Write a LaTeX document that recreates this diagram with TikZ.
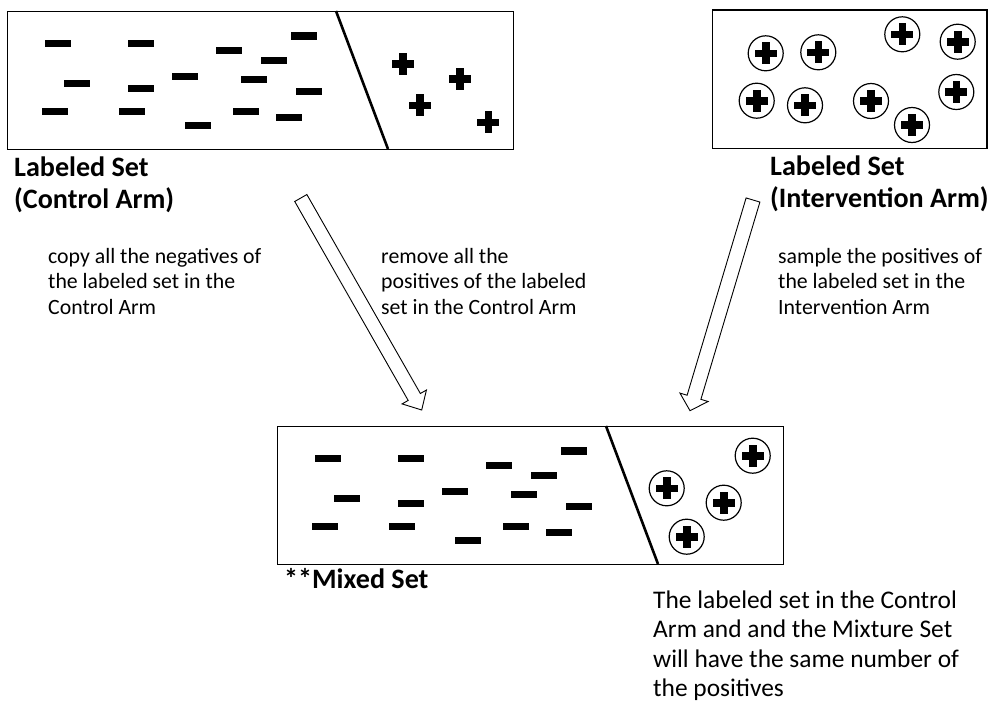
\documentclass[tikz,border=0pt]{standalone}
\usepackage{fontspec}
\setmainfont{Carlito}
\usetikzlibrary{calc}
\tikzset{
  setbox/.style={draw, line width=1.3pt, inner sep=0pt, anchor=north west},
  divider/.style={line width=2.6pt},
  negsign/.style={fill=black, inner sep=0pt, minimum width=26pt, minimum height=7.4pt},
  posring/.style={circle, draw, line width=1.2pt, inner sep=0pt, minimum size=35pt},
  plussign/.pic={\fill (-11,-3.8) rectangle (11,3.8); \fill (-3.8,-11) rectangle (3.8,11);},
  arrowline/.style={draw, line width=0.9pt, line join=miter, fill=white},
  titletext/.style={anchor=base west, align=left, inner sep=0pt, font=\fontsize{28.1}{32.3}\selectfont\bfseries},
  bodytext/.style={anchor=base west, align=left, inner sep=0pt, font=\fontsize{21.8}{25.3}\selectfont},
  notetext/.style={anchor=base west, align=left, inner sep=0pt, font=\fontsize{25.4}{29.5}\selectfont},
}
\begin{document}
\begin{tikzpicture}[x=1pt, y=-1pt]
\useasboundingbox (0,0) rectangle (989,707);

% ---------- Control arm box ----------
\node[setbox, minimum width=506pt, minimum height=138pt] (ctrl) at (7,11) {};
\draw[divider] (336,11) -- (388,149);
\foreach \x/\y [count=\i] in {58/43.7, 140.5/43.7, 228.7/50.3, 303.7/36, 273.5/60.3,
    77/83.7, 140.5/88.3, 185/76.3, 253.8/79.7, 308.5/91.7,
    54.8/111.3, 132/111.3, 198/125.7, 245.5/111.3, 288.5/117.3}
  \node[negsign] (cn\i) at (\x,\y) {};
\foreach \x/\y [count=\i] in {402.8/63.7, 459.8/79, 419.7/105.3, 488.3/122.3}
  \pic (cp\i) at (\x,\y) {plussign};

% ---------- Intervention arm box ----------
\node[setbox, minimum width=274.5pt, minimum height=138.7pt] (intv) at (711.7,9.3) {};
\foreach \x/\y [count=\i] in {765.7/53.3, 818.3/52.3, 902.3/34.3, 957.7/41.7,
    756.7/100.7, 805/105.3, 871/101, 912/125, 956.3/92}
  {\node[posring] (ip\i) at (\x,\y) {};
   \pic at (ip\i.center) {plussign};}

% ---------- Mixed set box ----------
\node[setbox, minimum width=506pt, minimum height=138pt] (mixed) at (277,426) {};
\draw[divider] (606,426) -- (658,564);
\foreach \x/\y [count=\i] in {58/43.7, 140.5/43.7, 228.7/50.3, 303.7/36, 273.5/60.3,
    77/83.7, 140.5/88.3, 185/76.3, 253.8/79.7, 308.5/91.7,
    54.8/111.3, 132/111.3, 198/125.7, 245.5/111.3, 288.5/117.3}
  \node[negsign] (mn\i) at (\x+270,\y+415) {};
\foreach \x/\y [count=\i] in {666.7/488.3, 752.7/455.7, 723.7/502.7, 686.7/536.7}
  {\node[posring] (mp\i) at (\x,\y) {};
   \pic at (mp\i.center) {plussign};}

% ---------- Block arrows ----------
\coordinate (la) at (300.8,198);
\coordinate (lb) at (421.7,410);
\coordinate (lh) at ($(lb)!15pt!(la)$);
\draw[arrowline] ($(la)!7pt!90:(lb)$) -- ($(lh)!7pt!90:(lb)$) -- ($(lh)!14pt!90:(lb)$)
  -- (lb) -- ($(lh)!14pt!-90:(lb)$) -- ($(lh)!7pt!-90:(lb)$) -- ($(la)!7pt!-90:(lb)$) -- cycle;

\coordinate (ra) at (753,200);
\coordinate (rb) at (690,410.7);
\coordinate (rh) at ($(rb)!14pt!(ra)$);
\draw[arrowline] ($(ra)!7.2pt!90:(rb)$) -- ($(rh)!7.2pt!90:(rb)$) -- ($(rh)!14.7pt!90:(rb)$)
  -- (rb) -- ($(rh)!14.7pt!-90:(rb)$) -- ($(rh)!7.2pt!-90:(rb)$) -- ($(ra)!7.2pt!-90:(rb)$) -- cycle;

% ---------- Texts (anchored at the baseline of the last line) ----------
\node[titletext] (ctitle) at (14,208.3) {Labeled Set\\(Control Arm)};
\node[titletext] (ititle) at (770,207.7) {Labeled Set\\(Intervention Arm)};
\node[titletext] (mtitle) at (284,588.3) {**Mixed Set};

\node[bodytext] (copytxt) at (48,314.1) {copy all the negatives of\\the labeled set in the\\Control Arm};
\node[bodytext] (remtxt) at (381,314.1) {remove all the\\positives of the labeled\\set in the Control Arm};
\node[bodytext] (samptxt) at (778,314.1) {sample the positives of\\the labeled set in the\\Intervention Arm};

\node[notetext] (note) at (653,696.8) {The labeled set in the Control\\Arm and and the Mixture Set\\will have the same number of\\the positives};
\end{tikzpicture}
\end{document}
